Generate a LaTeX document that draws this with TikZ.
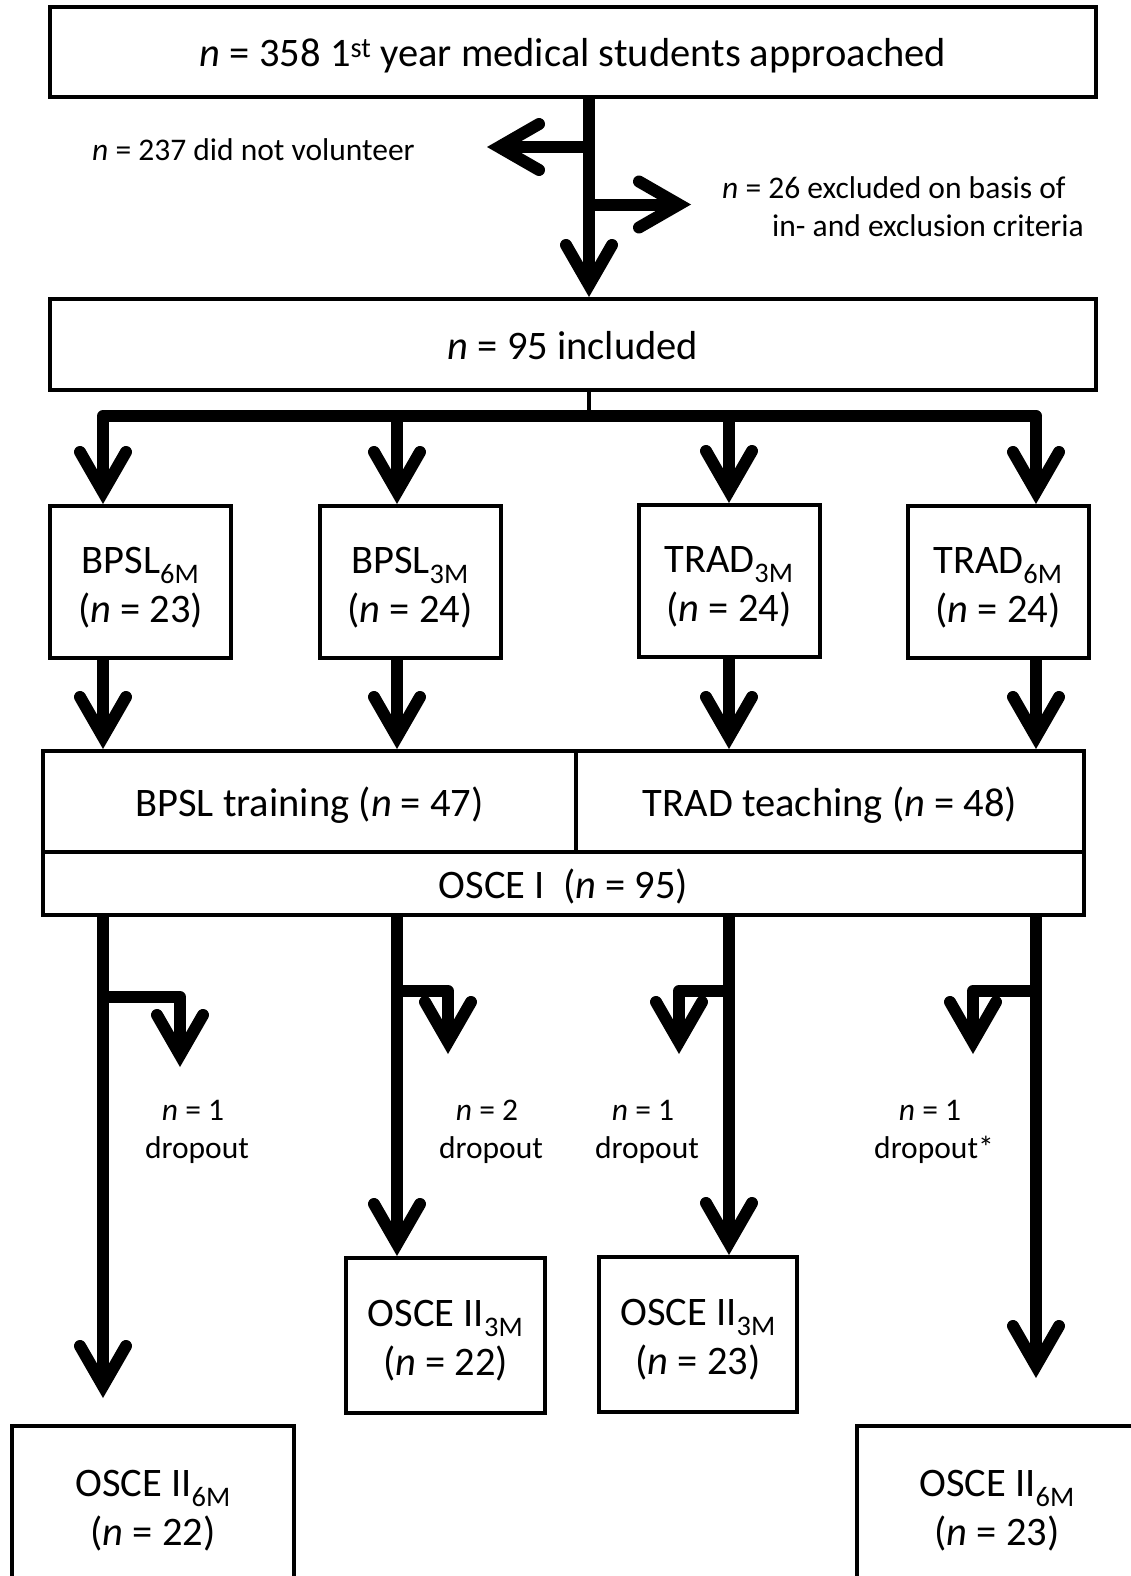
\documentclass[tikz,border=0pt]{standalone}
\usepackage{fontspec}
\setmainfont{Carlito}
\usetikzlibrary{arrows.meta}
\newcommand{\bigtxt}{\fontsize{40.5}{49}\selectfont}
\newcommand{\smalltxt}{\fontsize{31.5}{38}\selectfont}
\newcommand{\nn}{\textit{n}}
\newcommand{\hi}{\rule{0pt}{37pt}}

\begin{document}
\begin{tikzpicture}[x=1pt,y=-1pt,
  box/.style={draw,line width=4pt,inner sep=0pt,align=center,font=\bigtxt},
  onebox/.style={box,text height=32pt,text depth=2pt},
  lbl/.style={inner sep=0pt,align=center,font=\smalltxt},
  fat/.style={line width=12pt,line join=round},
  arr/.style={fat,-{Straight Barb[length=40pt,width=46pt,line cap=round,line join=miter]}},
  thin/.style={line width=4pt}]
\useasboundingbox (0,0) rectangle (1130,1576);

\node[onebox,minimum width=1046pt,minimum height=90pt] at(573,52) (top) {\nn{} = 358 1\textsuperscript{st} year medical students approached};
\node[onebox,minimum width=1046pt,minimum height=91pt] at(573,344.5) (incl) {\nn{} = 95 included};


\node[lbl,anchor=west] at(92,150) (nv) {\nn{} = 237 did not volunteer};
\node[lbl,anchor=west,align=left] at(722,206.5) (excl) {\nn{} = 26 excluded on basis of\\\hspace*{50pt}in- and exclusion criteria};


\node[box,minimum width=181pt,minimum height=152pt] at(140.5,582) (bp6) {\hi BPSL\textsubscript{6M}\\(\nn{} = 23)};
\node[box,minimum width=181pt,minimum height=152pt] at(410,582) (bp3) {\hi BPSL\textsubscript{3M}\\(\nn{} = 24)};
\node[box,minimum width=181pt,minimum height=152pt] at(729,581) (tr3) {\hi TRAD\textsubscript{3M}\\(\nn{} = 24)};
\node[box,minimum width=181pt,minimum height=152pt] at(998,582) (tr6) {\hi TRAD\textsubscript{6M}\\(\nn{} = 24)};


\node[onebox,minimum width=533pt,minimum height=101pt] at(309.5,801.5) (bptr) {BPSL training (\nn{} = 47)};
\node[onebox,minimum width=508pt,minimum height=101pt] at(830,801.5) (trtr) {TRAD teaching (\nn{} = 48)};
\node[onebox,minimum width=1041pt,minimum height=63pt] at(563.5,883.5) (osce) {OSCE I\ \ (\nn{} = 95)};


\node[box,minimum width=282pt,minimum height=158pt] at(153,1505) (os6a) {\hi OSCE II\textsubscript{6M}\\(\nn{} = 22)};
\node[box,minimum width=199pt,minimum height=155pt] at(445.5,1335.5) (os3a) {\hi OSCE II\textsubscript{3M}\\(\nn{} = 22)};
\node[box,minimum width=198pt,minimum height=155pt] at(698,1334.5) (os3b) {\hi OSCE II\textsubscript{3M}\\(\nn{} = 23)};
\node[box,minimum width=280pt,minimum height=158pt] at(997,1505) (os6b) {\hi OSCE II\textsubscript{6M}\\(\nn{} = 23)};


\node[lbl] at(197,1132) (drop1) {\nn{} = 1\hspace*{8pt}\\dropout};
\node[lbl] at(491,1132) (drop2) {\nn{} = 2\hspace*{8pt}\\dropout};
\node[lbl] at(647,1132) (drop3) {\nn{} = 1\hspace*{8pt}\\dropout};
\node[lbl] at(934,1132) (drop4) {\nn{} = 1\hspace*{8pt}\\dropout*};


\coordinate (j1) at (589,147);
\coordinate (j2) at (589,204.5);
\coordinate (t1) at (487,147);
\coordinate (t2) at (691,204.5);

\coordinate (k1) at (103,416);
\coordinate (k2) at (397,416);
\coordinate (k3) at (729,416);
\coordinate (k4) at (1036,416);

\coordinate (d1) at (103,997);
\coordinate (d2) at (397,991);
\coordinate (d3) at (729,991);
\coordinate (d4) at (1036,991);
\coordinate (e1) at (180,1067);
\coordinate (e2) at (448,1054);
\coordinate (e3) at (679,1054);
\coordinate (e4) at (973,1054);


\draw [arr] (top.south -| j1) -- (incl.north -| j1);
\draw [arr] (j1) -- (t1);
\draw [arr] (j2) -- (t2);


\draw [thin] (incl.south -| j1) -- (j1 |- k1);
\draw [fat,line cap=round] (k1) -- (k4);
\draw [arr] (k1) -- (k1 |- bp6.north);
\draw [arr] (k2) -- (k2 |- bp3.north);
\draw [arr] (k3) -- (k3 |- tr3.north);
\draw [arr] (k4) -- (k4 |- tr6.north);


\draw [arr] (bp6.south -| k1) -- (bptr.north -| k1);
\draw [arr] (bp3.south -| k2) -- (bptr.north -| k2);
\draw [arr] (tr3.south -| k3) -- (trtr.north -| k3);
\draw [arr] (tr6.south -| k4) -- (trtr.north -| k4);


\draw [arr,shorten >=26pt] (osce.south -| k1) -- (os6a.north -| k1);
\draw [arr] (osce.south -| k2) -- (os3a.north -| k2);
\draw [arr] (osce.south -| k3) -- (os3b.north -| k3);
\draw [arr,shorten >=46pt] (osce.south -| k4) -- (os6b.north -| k4);


\draw [arr] (d1) -| (e1);
\draw [arr] (d2) -| (e2);
\draw [arr] (d3) -| (e3);
\draw [arr] (d4) -| (e4);
\end{tikzpicture}
\end{document}
